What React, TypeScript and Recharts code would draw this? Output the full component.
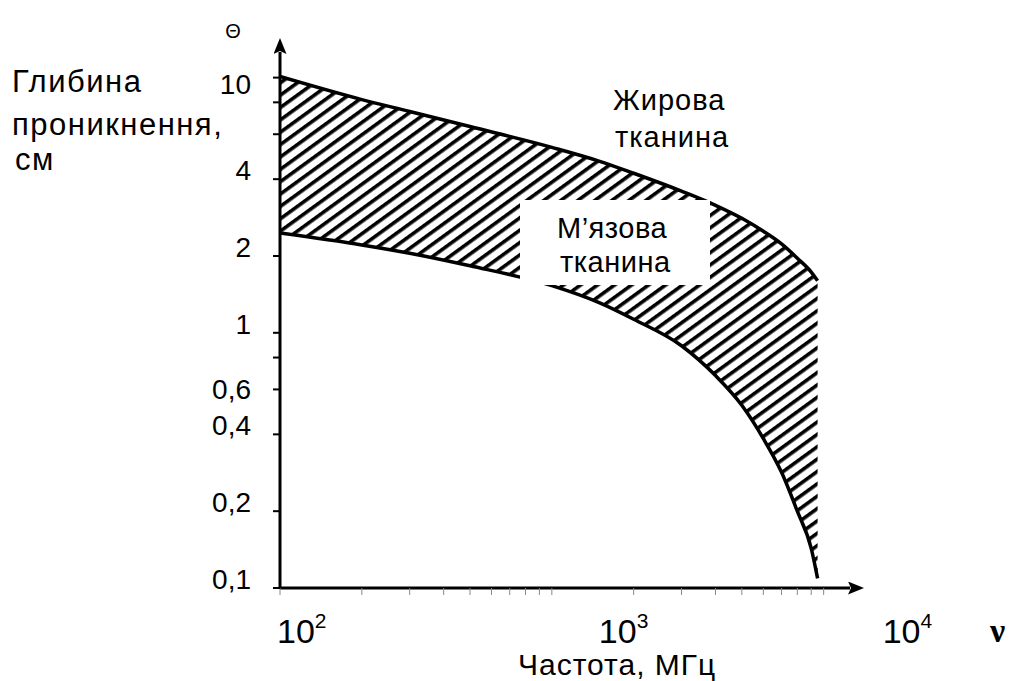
import React from 'react'
import { ComposedChart, Area, Line, XAxis, YAxis } from 'recharts'

// frequency, MHz
const freqs = [100, 200, 300, 500, 1000, 1500, 2000, 3000, 4000, 5000, 6000, 7000, 8000, 9000, 9500]
// penetration depth, cm
const fatDepth = [10.1, 8.2, 7.37, 6.43, 5.33, 4.7, 4.22, 3.59, 3.16, 2.81, 2.5, 2.23, 1.96, 1.73, 1.6]
const muscleDepth = [2.46, 2.21, 2.05, 1.83, 1.53, 1.31, 1.13, 0.89, 0.68, 0.52, 0.385, 0.284, 0.2, 0.143, 0.109]

const xTicks = [100, 200, 300, 400, 500, 600, 700, 800, 900, 1000, 2000, 3000, 4000, 5000, 6000, 7000, 8000, 9000, 10000]
const xExponents: Record<number, string> = { 100: '2', 1000: '3', 10000: '4' }

const yTicks = [0.1, 0.2, 0.4, 0.6, 0.8, 1, 2, 4, 6, 8, 10]
const yTickLabels = ['0,1', '0,2', '0,4', '0,6', '', '1', '2', '4', '', '', '10']

const data = freqs.map((f, i) => ({
  f,
  fat: fatDepth[i],
  muscle: muscleDepth[i],
  band: [muscleDepth[i], fatDepth[i]],
}))

const sans = '"Liberation Sans", Arial, sans-serif'

// the powers of ten sit a bit to the right of their ticks in the original
const labelShift: Record<number, number> = { 100: -3, 1000: 47, 10000: 59 }
// vertical nudge of a few y labels (original is hand-placed)
const yLabelNudge: Record<number, number> = { 10: 16, 0.6: 10 }

function XTick(props: any) {
  const { x, payload } = props
  const exp = xExponents[payload.value]
  if (!exp) return null
  return (
    <text x={x + labelShift[payload.value]} y={643} fontFamily={sans} fontSize={34} fill="#000">
      10
      <tspan dy={-15} fontSize={21}>{exp}</tspan>
    </text>
  )
}

function YTick(props: any) {
  const { x, y, payload } = props
  const label = yTickLabels[yTicks.indexOf(payload.value)]
  if (!label) return null
  const dy = yLabelNudge[payload.value] ?? 1
  return (
    <text x={x} y={y + dy} textAnchor="end" fontFamily={sans} fontSize={28} fill="#000">
      {label}
    </text>
  )
}

export default function App() {
  return (
    <div style={{ position: 'absolute', left: 0, top: 0, width: 1010, height: 681, background: '#fff' }}>
      <ComposedChart
        width={1010}
        height={681}
        data={data}
        margin={{ top: 52, right: 160, bottom: 0, left: 0 }}
      >
        <defs>
          <pattern id="hatch" patternUnits="userSpaceOnUse" width="10" height="10" patternTransform="rotate(-36)">
            <rect x="0" y="0" width="10" height="3.6" fill="#000" />
          </pattern>
          <marker
            id="arrow"
            viewBox="0 0 16 13"
            refX="2"
            refY="6.5"
            markerWidth="16"
            markerHeight="13"
            markerUnits="userSpaceOnUse"
            orient="auto-start-reverse"
          >
            <path d="M0,0 L16,6.5 L0,13 L3,6.5 z" fill="#000" />
          </marker>
        </defs>
        <XAxis
          dataKey="f"
          type="number"
          scale="log"
          domain={[100, 12500]}
          ticks={xTicks}
          interval={0}
          height={93}
          allowDataOverflow
          axisLine={{ stroke: '#000', strokeWidth: 3, markerEnd: 'url(#arrow)' }}
          tickLine={{ stroke: '#888', strokeWidth: 1 }}
          tickSize={7}
          tick={<XTick />}
        />
        <YAxis
          type="number"
          scale="log"
          domain={[0.1, 12.6]}
          ticks={yTicks}
          interval={0}
          width={280}
          allowDataOverflow
          axisLine={{ stroke: '#000', strokeWidth: 3, markerStart: 'url(#arrow)' }}
          tickLine={{ stroke: '#000', strokeWidth: 2 }}
          tickSize={7}
          tickMargin={22}
          tick={<YTick />}
        />
        <Area dataKey="band" type="monotone" fill="url(#hatch)" fillOpacity={1} stroke="none" isAnimationActive={false} />
        <Line dataKey="fat" type="monotone" stroke="#000" strokeWidth={3.5} dot={false} isAnimationActive={false} />
        <Line dataKey="muscle" type="monotone" stroke="#000" strokeWidth={3.5} dot={false} isAnimationActive={false} />
      </ComposedChart>

      <svg width={1010} height={681} style={{ position: 'absolute', left: 0, top: 0, pointerEvents: 'none' }}>
        <text x={233} y={38} textAnchor="middle" fontFamily={sans} fontSize={20} fill="#000">Θ</text>
        <g fontFamily={sans} fontSize={31} letterSpacing={1.5} fill="#000">
          <text x={12} y={92}>Глибина</text>
          <text x={12} y={135}>проникнення,</text>
          <text x={15} y={170}>см</text>
        </g>
        <g fontFamily={sans} fontSize={29} letterSpacing={1} fill="#000">
          <text x={613} y={110}>Жирова</text>
          <text x={615} y={147}>тканина</text>
        </g>
        <rect x={520} y={200} width={190} height={85} fill="#fff" />
        <g fontFamily={sans} fontSize={29} letterSpacing={0.5} fill="#000">
          <text x={557} y={238}>М’язова</text>
          <text x={560} y={272}>тканина</text>
        </g>
        <text x={518} y={675} fontFamily={sans} fontSize={30} letterSpacing={1} fill="#000">Частота, МГц</text>
        <text x={990} y={642} fontFamily='"Liberation Serif", "DejaVu Serif", serif' fontWeight="bold" fontSize={34} fill="#000">ν</text>
      </svg>
    </div>
  )
}
